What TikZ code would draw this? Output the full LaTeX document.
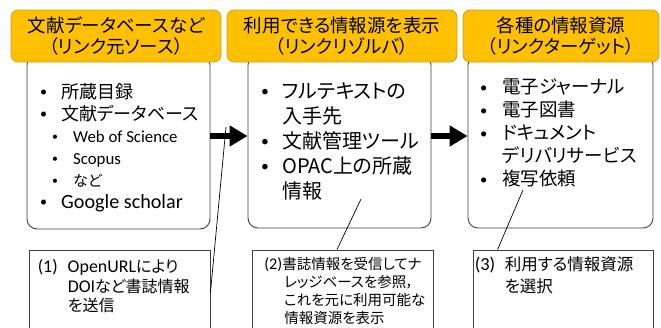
\documentclass[tikz,border=0pt]{standalone}
\usepackage{fontspec}
\setmainfont{Noto Sans CJK JP}[RawFeature={+palt}]
\newfontfamily\lat{Carlito}[Scale=1.12]
\usetikzlibrary{arrows.meta,calc}
\definecolor{hdfill}{HTML}{FFC000}
\definecolor{hdline}{HTML}{C9A227}
\tikzset{hd/.style={draw=hdline,fill=hdfill,rounded corners=7pt,line width=0.8pt,align=center,inner sep=0pt}}
\tikzset{bd/.style={draw=black!75,fill=white,rounded corners=10pt,line width=0.9pt}}
\tikzset{nt/.style={draw=black!75,fill=white,line width=0.9pt}}
\tikzset{tx/.style={anchor=north west,align=left,inner sep=0pt}}
\tikzset{fat/.style={line width=6pt,-{Triangle[length=18pt,width=20pt]}}}
\tikzset{ln/.style={line width=0.7pt}}
\tikzset{fh/.style={font=\fontsize{18.5}{21}\selectfont}}
\newcommand{\bul}[1][21pt]{\makebox[#1][l]{\raisebox{0.1em}{\scalebox{0.7}{\lat •}}}}

\begin{document}
\begin{tikzpicture}[x=1pt,y=-1pt]
  \useasboundingbox (0,0) rectangle (661,327);
  % boxes under the headers
  \node[bd,minimum width=183pt,minimum height=174pt] (src) at (118.5,142) {};
  \node[bd,minimum width=183pt,minimum height=173pt] (res) at (339.5,141.5) {};
  \node[bd,minimum width=185pt,minimum height=173pt] (tgt) at (560.5,141.5) {};
  % headers
  \node[hd,fh,minimum width=210pt,minimum height=52pt] (hsrc) at (116,36) {文献データベースなど\\（リンク元ソース）};
  \node[hd,fh,minimum width=230pt,minimum height=52pt] (hres) at (342,36) {利用できる情報源を表示\\（リンクリゾルバ）};
  \node[hd,fh,minimum width=196pt,minimum height=52pt] (htgt) at (561,36) {各種の情報資源\\（リンクターゲット）};
  % lists
  \node[tx,font=\fontsize{18}{22}\selectfont] (srctx) at (40,83) {%
    \bul 所蔵目録\\
    \bul 文献データベース\\
    \hspace*{12pt}{\fontsize{15}{22}\selectfont\bul{\lat Web of Science}}\\
    \hspace*{12pt}{\fontsize{15}{22}\selectfont\bul{\lat Scopus}}\\
    \hspace*{12pt}{\fontsize{15}{22}\selectfont\bul など}\\
    \bul{\lat Google scholar}};
  \node[tx,font=\fontsize{20}{25}\selectfont] (restx) at (261,82) {%
    \bul フルテキストの\\
    \hspace*{21pt}入手先\\
    \bul 文献管理ツール\\
    \bul OPAC上の所蔵\\
    \hspace*{21pt}情報};
  \node[tx,font=\fontsize{18.5}{23}\selectfont] (tgttx) at (480,79) {%
    \bul[22pt]電子ジャーナル\\
    \bul[22pt]電子図書\\
    \bul[22pt]ドキュメント\\
    \hspace*{22pt}デリバリサービス\\
    \bul[22pt]複写依頼};
  % arrows
  \coordinate (mid) at (0,136);
  \draw[fat] (src.east |- mid) -- (res.west |- mid);
  \draw[fat] (res.east |- mid) -- (tgt.west |- mid);
  % notes
  \node[nt,minimum width=181pt,minimum height=85pt] (c1) at (119.5,292.5) {};
  \node[nt,minimum width=181pt,minimum height=85pt] (c2) at (343,292.5) {};
  \node[nt,minimum width=180pt,minimum height=85pt] (c3) at (563,292.5) {};
  \node[tx,font=\fontsize{16}{19.5}\selectfont] (c1tx) at ($(c1.north west)+(9,10)$) {%
    \makebox[30pt][l]{\lat (1)}{\lat OpenURL}により\\
    \hspace*{30pt}{\lat DOI}など書誌情報\\
    \hspace*{30pt}を送信};
  \node[tx,font=\fontsize{14.5}{17.7}\selectfont] (c2tx) at ($(c2.north west)+(12,8)$) {%
    \makebox[18pt][l]{\lat (2)}書誌情報を受信してナ\\
    \hspace*{20pt}レッジベースを参照，\\
    \hspace*{20pt}これを元に利用可能な\\
    \hspace*{20pt}情報資源を表示};
  \node[tx,font=\fontsize{16.5}{22}\selectfont] (c3tx) at ($(c3.north west)+(2,7)$) {%
    \makebox[30pt][l]{\lat (3)}利用する情報資源\\
    \hspace*{30pt}を選択};
  % leader lines
  \coordinate (p1) at (226,127);
  \coordinate (p2) at (361,199);
  \coordinate (p3) at (523,190);
  \draw[ln] (p1) -- (c1.east);
  \draw[ln] (p2) -- ($(c2.north)+(-6,0)$);
  \draw[ln] (p3) -- ($(c3.north west)+(25,0)$);
\end{tikzpicture}
\end{document}
